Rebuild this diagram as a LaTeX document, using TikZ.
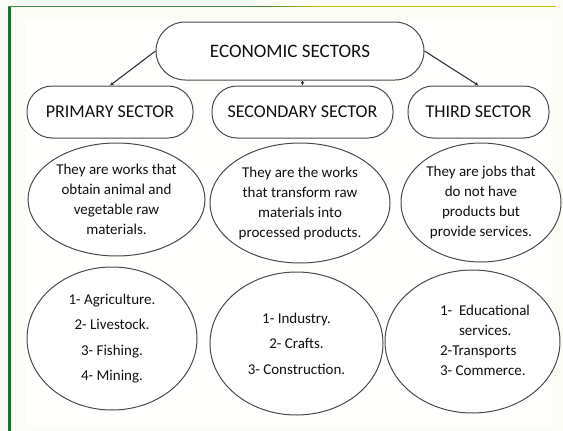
\documentclass[tikz,border=0pt]{standalone}
\usepackage{fontspec}
\setmainfont{Carlito}
\usetikzlibrary{shapes.geometric,arrows.meta}
\definecolor{shapeline}{HTML}{4A4A4A}
\definecolor{arrowline}{HTML}{333333}
\definecolor{bggrey}{HTML}{FCFCF6}
\definecolor{innerbg}{HTML}{FFFFFD}
\definecolor{bordergreen}{HTML}{1F6F32}
\definecolor{topgreen}{HTML}{3A8A40}
\definecolor{topyellow}{HTML}{C8C200}
\definecolor{txt}{HTML}{111111}
\begin{document}
\begin{tikzpicture}[x=1pt,y=-1pt,
  pill/.style={draw=shapeline,line width=1pt,rounded corners=25pt,minimum height=52pt,
    inner sep=0pt,font=\fontsize{18}{20}\selectfont,text=txt,fill=white},
  oval/.style={draw=shapeline,line width=1pt,ellipse,inner sep=0pt,align=center,
    font=\fontsize{15}{20}\selectfont,text=txt,fill=white},
  conn/.style={draw=arrowline,line width=1.1pt,-{Stealth[length=4pt,width=3.5pt]}},
  plaintext/.style={inner sep=0pt,text=txt}
]
\useasboundingbox (0,0) rectangle (563,431);
\fill[bggrey] (0,0) rectangle (563,431);
\fill[innerbg] (25,20) rectangle (552,425);
\fill[bordergreen] (8,5.5) rectangle (11,431);
\fill[topgreen] (8,5.5) rectangle (260,7);
\foreach \i in {0,...,15}{
  \pgfmathsetmacro{\pc}{100-\i*100/15}
  \fill[topgreen!\pc!topyellow] (260+\i*4,5.5) rectangle (264.5+\i*4,7);
}
\fill[topyellow] (324,5.5) rectangle (556,7);

% top
\node[pill,minimum width=268pt,minimum height=58pt,rounded corners=29pt,font=\fontsize{19}{21}\selectfont] (title) at (290,51) {ECONOMIC SECTORS};

% sectors
\node[pill,minimum width=166pt] (prim) at (110,112) {PRIMARY SECTOR};
\node[pill,minimum width=181pt] (sec) at (302.5,112) {SECONDARY SECTOR};
\node[pill,minimum width=141pt] (third) at (478.5,112) {THIRD SECTOR};

\draw[conn] (title.west) -- (prim.north);
\draw[conn] (title.south -| sec.north) -- (sec.north);
\draw[conn] (title.east) -- (third.north);

% descriptions
\node[oval,minimum width=177pt,minimum height=113pt] (d1) at (116.5,199.5)
  {They are works that\\obtain animal and\\vegetable raw\\materials.};
\node[oval,minimum width=180pt,minimum height=120pt] (d2) at (300,203)
  {They are the works\\that transform raw\\materials into\\processed products.};
\node[oval,minimum width=160pt,minimum height=119pt] (d3) at (481,202.5)
  {They are jobs that\\do not have\\products but\\provide services.};

% lists
\node[oval,minimum width=170pt,minimum height=143pt,font=\fontsize{15}{25.5}\selectfont] (l1) at (112,338.5)
  {1- Agriculture.\\2- Livestock.\\3- Fishing.\\4- Mining.};
\node[oval,minimum width=173pt,minimum height=143pt,font=\fontsize{15}{25.5}\selectfont] (l2) at (296.5,343.5)
  {1- Industry.\\2- Crafts.\\3- Construction.};
\node[oval,minimum width=175pt,minimum height=143pt] (l3) at (472.5,341.5) {};
\node[plaintext,align=left,font=\fontsize{15}{20}\selectfont] (l3t) at (485,340)
  {1-~~Educational\\\hspace*{19pt}services.\\2-Transports\\3- Commerce.};
\end{tikzpicture}
\end{document}
